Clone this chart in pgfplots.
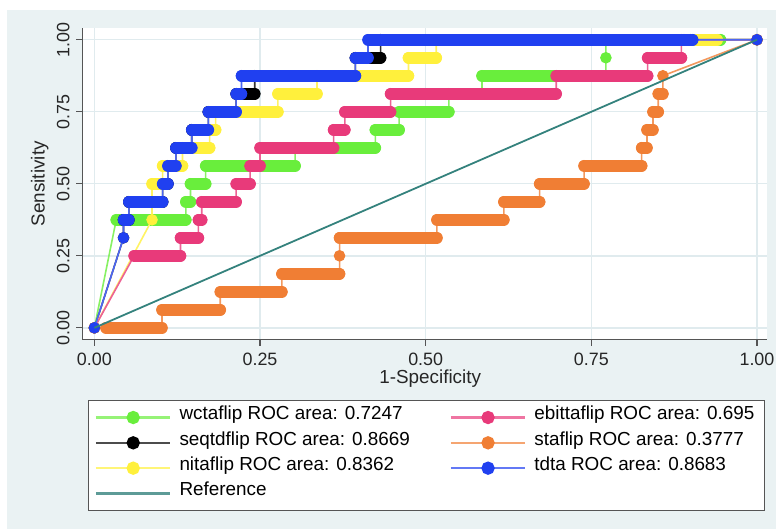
\documentclass[border=0pt]{standalone}
\usepackage{pgfplots}
\pgfplotsset{compat=1.18}
\usepackage{pgfplotstable}
\usepackage{fontspec}
\setmainfont{Liberation Sans}

\definecolor{cgreen}{RGB}{105,238,60}
\definecolor{cyellow}{RGB}{255,240,60}
\definecolor{cpink}{RGB}{232,58,122}
\definecolor{corange}{RGB}{240,126,52}
\definecolor{cblue}{RGB}{32,64,240}
\definecolor{cblack}{RGB}{0,0,0}
\definecolor{cref}{RGB}{52,130,125}
\definecolor{bggray}{RGB}{234,242,243}
\definecolor{gridc}{RGB}{224,235,238}
\definecolor{axc}{RGB}{85,85,85}

% ROC step curves: segments separated by nan rows
\pgfplotstableread{
x y
0 0
nan nan
0.033 0.375
0.138 0.375
nan nan
0.138 0.4375
0.145 0.4375
nan nan
0.145 0.5
0.168 0.5
nan nan
0.168 0.5625
0.303 0.5625
nan nan
0.303 0.625
0.424 0.625
nan nan
0.424 0.6875
0.46 0.6875
nan nan
0.46 0.75
0.535 0.75
nan nan
0.535 0.8125
0.585 0.8125
nan nan
0.585 0.875
0.772 0.875
nan nan
0.772 0.9375
nan nan
0.772 1
0.945 1
nan nan
1 1
}\wcta

\pgfplotstableread{
x y
0 0
nan nan
0.044 0.3125
nan nan
0.044 0.375
0.052 0.375
nan nan
0.052 0.4375
0.103 0.4375
nan nan
0.103 0.5
0.111 0.5
nan nan
0.111 0.5625
0.123 0.5625
nan nan
0.123 0.625
0.147 0.625
nan nan
0.147 0.6875
0.172 0.6875
nan nan
0.172 0.75
0.214 0.75
nan nan
0.214 0.8125
0.242 0.8125
nan nan
0.242 0.875
0.394 0.875
nan nan
0.394 0.9375
0.432 0.9375
nan nan
0.432 1
0.90 1
nan nan
1 1
}\seqtd

\pgfplotstableread{
x y
0 0
nan nan
0.087 0.375
nan nan
0.087 0.4375
nan nan
0.087 0.5
0.103 0.5
nan nan
0.103 0.5625
0.133 0.5625
nan nan
0.133 0.625
0.174 0.625
nan nan
0.174 0.6875
0.183 0.6875
nan nan
0.183 0.75
0.277 0.75
nan nan
0.277 0.8125
0.336 0.8125
nan nan
0.336 0.875
0.474 0.875
nan nan
0.474 0.9375
0.516 0.9375
nan nan
0.516 1
0.94 1
nan nan
1 1
}\nita

\pgfplotstableread{
x y
0 0
nan nan
0.06 0.25
0.13 0.25
nan nan
0.13 0.3125
0.157 0.3125
nan nan
0.157 0.375
0.162 0.375
nan nan
0.162 0.4375
0.214 0.4375
nan nan
0.214 0.5
0.235 0.5
nan nan
0.235 0.5625
0.25 0.5625
nan nan
0.25 0.625
0.361 0.625
nan nan
0.361 0.6875
0.378 0.6875
nan nan
0.378 0.75
0.447 0.75
nan nan
0.447 0.8125
0.697 0.8125
nan nan
0.697 0.875
0.835 0.875
nan nan
0.835 0.9375
0.886 0.9375
nan nan
0.886 1
0.89 1
nan nan
1 1
}\ebitta

\pgfplotstableread{
x y
0 0
nan nan
0.0175 0
0.102 0
nan nan
0.102 0.0625
0.19 0.0625
nan nan
0.19 0.125
0.283 0.125
nan nan
0.283 0.1875
0.37 0.1875
nan nan
0.37 0.25
nan nan
0.37 0.3125
0.517 0.3125
nan nan
0.517 0.375
0.618 0.375
nan nan
0.618 0.4375
0.672 0.4375
nan nan
0.672 0.5
0.739 0.5
nan nan
0.739 0.5625
0.826 0.5625
nan nan
0.826 0.625
0.834 0.625
nan nan
0.834 0.6875
0.843 0.6875
nan nan
0.843 0.75
0.851 0.75
nan nan
0.851 0.8125
0.858 0.8125
nan nan
0.858 0.875
nan nan
1 1
}\sta

\pgfplotstableread{
x y
0 0
nan nan
0.044 0.3125
nan nan
0.044 0.375
0.052 0.375
nan nan
0.052 0.4375
0.103 0.4375
nan nan
0.103 0.5
0.111 0.5
nan nan
0.111 0.5625
0.123 0.5625
nan nan
0.123 0.625
0.147 0.625
nan nan
0.147 0.6875
0.172 0.6875
nan nan
0.172 0.75
0.214 0.75
nan nan
0.214 0.8125
0.222 0.8125
nan nan
0.222 0.875
0.394 0.875
nan nan
0.394 0.9375
0.413 0.9375
nan nan
0.413 1
0.903 1
nan nan
1 1
}\tdta

\pgfplotstableread{
x y
0 0
1 1
}\refline

\pgfplotsset{
  thinl/.style={line width=0.8pt, unbounded coords=discard, mark=none, #1!80!white},
  barl/.style={line width=5.8pt, line cap=round, unbounded coords=jump, #1,
    mark=*, mark size=2.65pt, mark options={solid, fill=#1, draw=#1, line width=0.5pt}},
  legl/.style={#1!70!white, line width=1.1pt, mark=*, mark size=2.8pt, mark options={solid, fill=#1, draw=#1}},
}

\begin{document}
\begin{tikzpicture}
\fill[white] (0pt,0pt) rectangle (390.5pt,266pt);
\fill[bggray] (3.5pt,0pt) rectangle (390.5pt,261pt);
\begin{axis}[
  at={(41.5pt,95pt)}, anchor=south west,
  scale only axis, width=344.5pt, height=157pt,
  xmin=-0.018, xmax=1.015, ymin=-0.0414, ymax=1.0414,
  clip mode=individual,
  axis background/.style={fill=white},
  axis x line*=bottom, axis y line*=left,
  axis line style={axc, line width=0.6pt, -},
  tick align=outside, major tick length=3pt,
  tick style={axc, line width=0.6pt},
  xtick={0,0.25,0.5,0.75,1}, ytick={0,0.25,0.5,0.75,1},
  xticklabels={0.00,0.25,0.50,0.75,1.00},
  yticklabels={0.00,0.25,0.50,0.75,1.00},
  ticklabel style={font=\fontsize{9}{10}\selectfont, text=black!85},
  yticklabel style={rotate=90, anchor=south},
  grid=major, grid style={gridc, line width=0.7pt},
  xlabel={1-Specificity}, ylabel={Sensitivity},
  label style={font=\fontsize{9.5}{11}\selectfont, text=black!85},
  xlabel style={at={(axis description cs:0.508,-0.124)}, anchor=center},
  ylabel style={at={(axis description cs:-0.0624,0.5)}, anchor=center},
  legend image code/.code={\draw[mark repeat=2,mark phase=2,#1] plot coordinates {(0pt,0pt) (18.75pt,0pt) (37.5pt,0pt)};},
  legend columns=2,
  legend cell align=left,
  legend style={at={(axis description cs:0.0087,-0.1943)}, anchor=north west,
    draw=axc, line width=0.5pt, fill=white,
    font=\fontsize{9.5}{11}\selectfont,
    inner xsep=3pt, inner ysep=2pt, row sep=0pt, column sep=4pt,
    nodes={inner sep=0pt, text height=7.5pt, text depth=5.25pt}},
]
% green
\addplot[thinl=cgreen, forget plot] table {\wcta};
\addplot[barl=cgreen, forget plot] table {\wcta};
% black
\addplot[thinl=cblack, forget plot] table {\seqtd};
\addplot[barl=cblack, forget plot] table {\seqtd};
% yellow
\addplot[thinl=cyellow, forget plot] table {\nita};
\addplot[barl=cyellow, forget plot] table {\nita};
% pink
\addplot[thinl=cpink, forget plot] table {\ebitta};
\addplot[barl=cpink, forget plot] table {\ebitta};
% orange
\addplot[thinl=corange, forget plot] table {\sta};
\addplot[barl=corange, forget plot] table {\sta};
% blue
\addplot[thinl=cblue, forget plot] table {\tdta};
\addplot[barl=cblue, forget plot] table {\tdta};
% reference
\addplot[cref, line width=0.9pt, no marks, forget plot] table {\refline};

\addlegendimage{legl=cgreen}
\addlegendentry{\makebox[132pt][l]{wctaflip ROC area: 0.7247}}
\addlegendimage{legl=cpink}
\addlegendentry{\makebox[113pt][l]{ebittaflip ROC area: 0.695}}
\addlegendimage{legl=cblack}
\addlegendentry{\makebox[132pt][l]{seqtdflip ROC area: 0.8669}}
\addlegendimage{legl=corange}
\addlegendentry{\makebox[113pt][l]{staflip ROC area: 0.3777}}
\addlegendimage{legl=cyellow}
\addlegendentry{\makebox[132pt][l]{nitaflip ROC area: 0.8362}}
\addlegendimage{legl=cblue}
\addlegendentry{\makebox[113pt][l]{tdta ROC area: 0.8683}}
\addlegendimage{cref!80!white, line width=1.1pt, no marks}
\addlegendentry{\makebox[132pt][l]{Reference}}
\end{axis}
\end{tikzpicture}
\end{document}
